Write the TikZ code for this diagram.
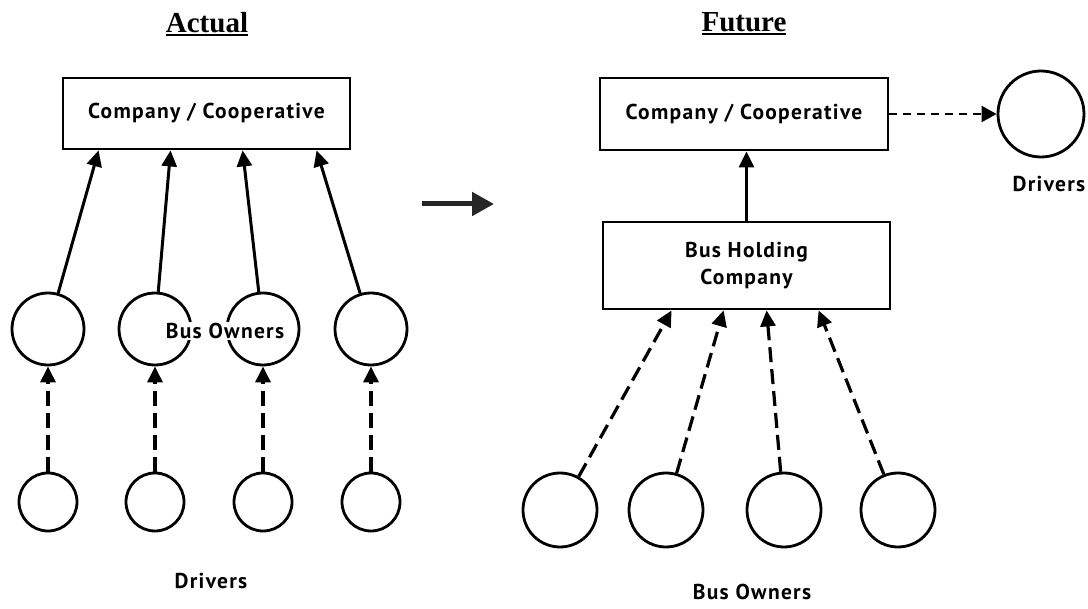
\documentclass[tikz,border=0pt]{standalone}
\usepackage{fontspec}
\setmainfont{Liberation Serif}
\newfontfamily\lblfont[LetterSpace=6]{PT Sans}
\usetikzlibrary{arrows.meta}
\newcommand\myul[1]{\setbox0\hbox{#1}\rlap{\rule[-4pt]{\wd0}{2pt}}\box0}
\begin{document}
\begin{tikzpicture}[x=1pt,y=-1pt,
  lbl/.style={font=\lblfont\bfseries\fontsize{21.5}{27}\selectfont, inner sep=1pt, align=center},
  ttl/.style={font=\bfseries\fontsize{29}{32}\selectfont, inner sep=0pt},
  box/.style={draw, line width=2.8pt, inner sep=0pt, lbl},
  bigc/.style={draw, circle, line width=2.8pt, inner sep=0pt},
  arr/.style={line width=3pt, -{Triangle[length=16pt,width=15pt]}},
  dasharr/.style={line width=3.2pt, dash pattern=on 15pt off 7pt, -{Triangle[length=16pt,width=15pt]}},
  thindash/.style={line width=2pt, dash pattern=on 8pt off 6pt, -{Triangle[length=15pt,width=16pt]}}
]
\useasboundingbox[fill=white] (0,0) rectangle (1088,609);

% titles
\node[ttl] (tA) at (207,24) {\myul{Actual}};
\node[ttl] (tF) at (744,24) {\myul{Future}};

% ---------- Actual ----------
\node[box, minimum width=287pt, minimum height=71pt] (lbox) at (206.5,113.5) {Company / Cooperative};

\foreach \i/\x in {1/48,2/155,3/263,4/371}{
  \node[bigc, minimum size=72pt] (o\i) at (\x,329) {};
  \node[bigc, minimum size=58pt] (d\i) at (\x,502) {};
}
\node[lbl, fill=white] (bo) at (225,331) {Bus Owners};

\coordinate (la) at ([xshift=37pt]lbox.south west);
\coordinate (lb) at ([xshift=109pt]lbox.south west);
\coordinate (lc) at ([xshift=181pt]lbox.south west);
\coordinate (ld) at ([xshift=255pt]lbox.south west);
\draw[arr] (o1) -- (la);
\draw[arr] (o2) -- (lb);
\draw[arr] (o3) -- (lc);
\draw[arr] (o4) -- (ld);
\foreach \i in {1,2,3,4}{
  \draw[dasharr] (d\i) -- (o\i);
}
\node[lbl] (drl) at (211,581) {Drivers};

% middle arrow
\coordinate (m1) at (422,204);
\coordinate (m2) at (494,204);
\draw[line width=5pt, black!85, -{Triangle[length=22pt,width=23pt]}] (m1) -- (m2);

% ---------- Future ----------
\node[box, minimum width=288pt, minimum height=72pt] (rbox) at (744,114) {Company / Cooperative};
\node[bigc, minimum size=86pt] (drv) at (1041,114) {};
\node[lbl] (drr) at (1049,184) {Drivers};
\draw[thindash] (rbox.east) -- (drv);

\node[box, minimum width=287pt, minimum height=87pt] (bus) at (746.5,265.5) {Bus Holding\\Company};
\draw[arr] (bus.north) -- (bus.north |- rbox.south);

\node[bigc, minimum size=74pt] (b1) at (560,510) {};
\node[bigc, minimum size=74pt] (b2) at (666,510) {};
\node[bigc, minimum size=74pt] (b3) at (784,510) {};
\node[bigc, minimum size=74pt] (b4) at (898,510) {};

\coordinate (ra) at ([xshift=70pt]bus.south west);
\coordinate (rb) at ([xshift=122pt]bus.south west);
\coordinate (rc) at ([xshift=165pt]bus.south west);
\coordinate (rd) at ([xshift=217pt]bus.south west);
\draw[dasharr] (b1) -- (ra);
\draw[dasharr] (b2) -- (rb);
\draw[dasharr] (b3) -- (rc);
\draw[dasharr] (b4) -- (rd);

\node[lbl] (bor) at (752,592) {Bus Owners};
\end{tikzpicture}
\end{document}
